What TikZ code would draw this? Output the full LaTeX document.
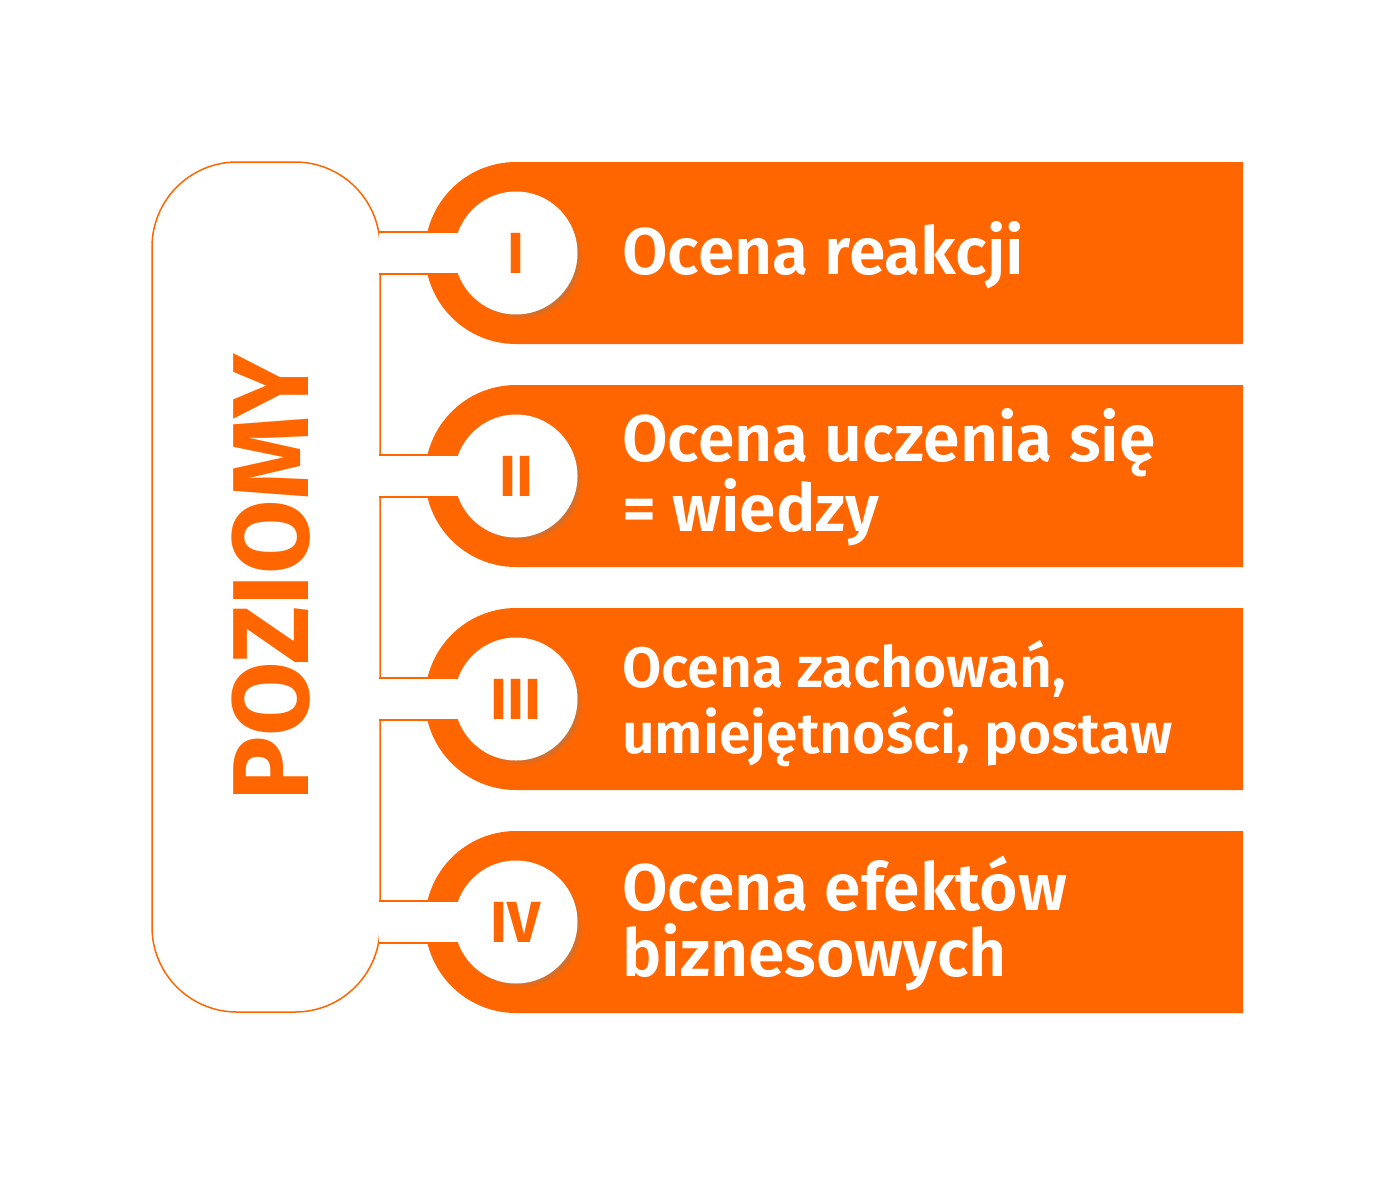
\documentclass[tikz,border=0pt]{standalone}
\usepackage{fontspec}
\setmainfont{Fira Sans}[UprightFont=* SemiBold, BoldFont=* Bold]
\usepackage{tikz}
\usetikzlibrary{positioning}
\usetikzlibrary{shapes.misc}
\usetikzlibrary{shadows}
\definecolor{poorange}{RGB}{255,102,0}
\tikzset{
  band/.style={rounded rectangle, rounded rectangle right arc=none, fill=poorange,
    minimum width=818pt, minimum height=182pt, inner sep=0pt, outer sep=0pt},
  levelbox/.style={draw=poorange, line width=1.5pt, fill=white, rounded corners=85pt,
    minimum width=228pt, minimum height=850pt, inner sep=0pt},
  channel/.style={draw=poorange, line width=1.5pt, double=white, double distance=40.5pt},
  numcircle/.style={circle, fill=white, minimum size=123pt, inner sep=0pt, text=poorange,
    font=\fontsize{58}{58}\selectfont\bfseries,
    circular drop shadow={shadow scale=1.0, shadow xshift=5pt, shadow yshift=-5pt, opacity=.5}},
  leveltext/.style={text=white, align=left, inner sep=0pt, anchor=base west}
}

\begin{document}
\begin{tikzpicture}[x=1pt, y=-1pt]
    \useasboundingbox[fill=white] (0,0) rectangle (1400,1183);
    \node[levelbox] (box) at (266,587) {};
    \node[text=poorange, rotate=90, inner sep=0pt, font=\fontsize{108}{108}\selectfont\bfseries] (title) at (271,578) {POZIOMY};
    \node[band] (b1) at (834,253) {};
    \node[band, below=41pt of b1] (b2) {};
    \node[band, below=41pt of b2] (b3) {};
    \node[band, below=41pt of b3] (b4) {};
    \draw[channel] ([xshift=-2pt]box.east |- b1.west) -- ([xshift=91pt]b1.west);
    \draw[channel] ([xshift=-2pt]box.east |- b2.west) -- ([xshift=91pt]b2.west);
    \draw[channel] ([xshift=-2pt]box.east |- b3.west) -- ([xshift=91pt]b3.west);
    \draw[channel] ([xshift=-2pt]box.east |- b4.west) -- ([xshift=91pt]b4.west);
    \node[numcircle] (n1) at ([xshift=91pt]b1.west) {I};
    \node[numcircle] (n2) at ([xshift=91pt]b2.west) {II};
    \node[numcircle] (n3) at ([xshift=91pt]b3.west) {III};
    \node[numcircle] (n4) at ([xshift=91pt]b4.west) {IV};
    \node[leveltext, font=\fontsize{66}{66}\selectfont] (t1) at ([xshift=197pt, yshift=-21pt]b1.west) {Ocena reakcji};
    \node[leveltext, font=\fontsize{66}{66}\selectfont] (t2) at ([xshift=197pt, yshift=-55pt]b2.west) {Ocena uczenia się\\= wiedzy};
    \node[leveltext, font=\fontsize{57}{66}\selectfont] (t3) at ([xshift=197pt, yshift=-54pt]b3.west) {Ocena zachowań,\\umiejętności, postaw};
    \node[leveltext, font=\fontsize{66}{66}\selectfont] (t4) at ([xshift=197pt, yshift=-54.5pt]b4.west) {Ocena efektów\\biznesowych};
\end{tikzpicture}
\end{document}
